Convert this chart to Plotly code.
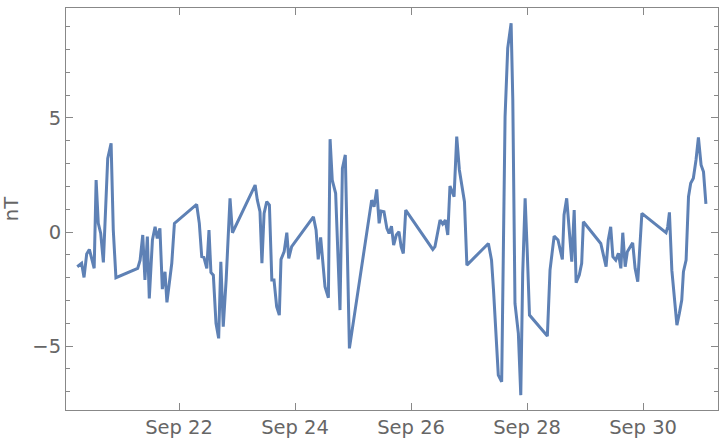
import pandas as pd
import plotly.graph_objects as go

base = pd.Timestamp("2023-09-20 00:00")
hours = [5.9, 7.7, 8.7, 9.8, 10.9, 12.9, 13.7, 14.6, 15.6, 16.7, 18.5, 19.9, 20.8, 21.9,
         30.9, 31.9, 33.0, 33.9, 34.9, 35.7, 37.0, 38.1, 39.0, 40.1, 41.1, 42.2, 43.0, 45.0, 46.1,
         55.3, 56.4, 57.4, 58.3, 59.5, 60.4, 61.2, 62.2, 63.3, 64.4, 65.3, 66.3, 67.5, 69.1, 70.1,
         79.5, 80.4, 81.5, 82.3, 83.2, 84.3, 85.4, 86.4, 87.3, 88.4, 89.5, 90.2, 91.5, 92.6, 93.4, 94.6,
         103.6, 104.7, 105.6, 106.6, 108.4, 109.8, 110.5, 111.4, 112.8, 114.6, 115.6, 116.8, 118.5,
         127.7, 128.7, 129.8, 130.8, 131.6, 132.8, 134.0, 134.9, 135.9, 136.8, 137.9, 139.0, 139.9, 140.8, 141.8,
         153.0, 153.9, 156.0, 157.1, 158.2, 159.2, 160.1, 161.8, 162.9, 164.0, 166.1, 167.1,
         176.0, 177.3, 178.1, 179.5, 180.1, 181.5, 182.9, 184.0, 185.4, 186.1, 187.0, 188.4, 189.4,
         190.2, 191.2, 192.1, 193.0,
         200.4, 201.5, 203.2, 204.8, 206.6, 207.3, 208.4, 210.5, 211.5, 212.3, 213.6, 214.6, 215.3,
         222.5, 223.6, 224.7, 225.6, 226.6, 227.5, 228.7, 229.8, 230.8, 231.6, 232.6, 233.5, 234.6,
         235.7, 236.7, 237.8, 239.5,
         249.5, 250.2, 250.9, 251.9, 253.0, 254.0, 255.0, 256.0, 256.7, 257.8, 258.8, 259.7, 260.8,
         261.9, 262.9, 264.0, 265.0, 266.0]
values = [-1.52, -1.37, -1.99, -0.96, -0.76, -1.59, 2.28, 0.38, -0.06, -1.33, 3.23, 3.89, 0.09, -2.0,
          -1.59, -1.23, -0.13, -2.1, -0.2, -2.91, -0.35, 0.23, -0.28, 0.16, -2.5, -1.74, -3.08, -1.37, 0.38,
          1.21, 0.38, -1.08, -1.11, -1.59, 0.09, -1.77, -1.89, -4.0, -4.66, -1.30, -4.15, -2.1, 1.48, -0.03,
          2.06, 1.40, 0.89, -1.37, 0.82, 1.33, 1.18, -2.1, -2.1, -3.27, -3.64, -1.2, -0.86, -0.03, -1.15, -0.64,
          0.67, 0.09, -1.2, -0.23, -2.4, -2.88, 4.07, 2.28, 1.70, -3.42, 2.79, 3.38, -5.1,
          1.40, 1.11, 1.87, 0.38, 0.92, 0.89, 0.16, -0.06, 0.26, -0.57, -0.13, 0.01, -0.64, -0.94, 0.96,
          -0.76, -0.64, 0.53, 0.35, 0.53, -0.13, 2.02, 1.55, 4.18, 2.72, 1.33, -1.45,
          -0.5, -1.23, -2.5, -5.18, -6.27, -6.56, 5.06, 8.06, 9.15, 5.79, -3.13, -4.44, -7.15,
          -1.81, 1.48, -0.93, -3.64,
          -4.56, -1.67, -0.18, -0.35, -1.2, 0.75, 1.48, -1.30, 0.96, -2.22, -1.89, -1.37, 0.45,
          -0.5, -1.01, -1.52, -0.35, 0.23, -1.08, -1.23, -0.93, -1.59, -0.03, -1.52, -0.86, -0.64,
          -0.47, -1.59, -2.18, 0.82,
          -0.03, 0.23, 0.86, -1.67, -2.98, -4.08, -3.57, -2.98, -1.74, -1.23, 1.55, 2.14, 2.36,
          3.16, 4.15, 2.94, 2.64, 1.23]

times = [base + pd.Timedelta(hours=h) for h in hours]
tick_dates = ["2023-09-22", "2023-09-24", "2023-09-26", "2023-09-28", "2023-09-30"]
tick_text = ["Sep 22", "Sep 24", "Sep 26", "Sep 28", "Sep 30"]
x_range = [base + pd.Timedelta(hours=1.24), base + pd.Timedelta(hours=271.0)]
y_range = [-7.8, 9.82]

fig = go.Figure(go.Scatter(x=times, y=values, mode="lines",
                           line=dict(color="#5E81B5", width=3)))

font = dict(family="DejaVu Sans", size=19.5, color="#666666")
axis_common = dict(showline=True, linecolor="#888888", linewidth=1, mirror="ticks",
                   ticks="inside", tickcolor="#888888", showgrid=False, zeroline=False,
                   automargin=False, tickfont=font)

fig.update_xaxes(range=x_range, tickvals=tick_dates, ticktext=tick_text, ticklen=7,
                 **axis_common)
fig.update_yaxes(range=y_range, tickvals=[-5, 0, 5], ticklen=7,
                 minor=dict(ticks="inside", dtick=1, ticklen=4, tickcolor="#888888"),
                 title=dict(text="nT", font=font, standoff=12),
                 **axis_common)
fig.update_layout(width=720, height=442, margin=dict(l=66, r=2, t=8, b=32),
                  plot_bgcolor="white", paper_bgcolor="white", showlegend=False)
fig.write_html("out.html", config={"displayModeBar": False},
               post_script="document.body.style.margin='0';")
